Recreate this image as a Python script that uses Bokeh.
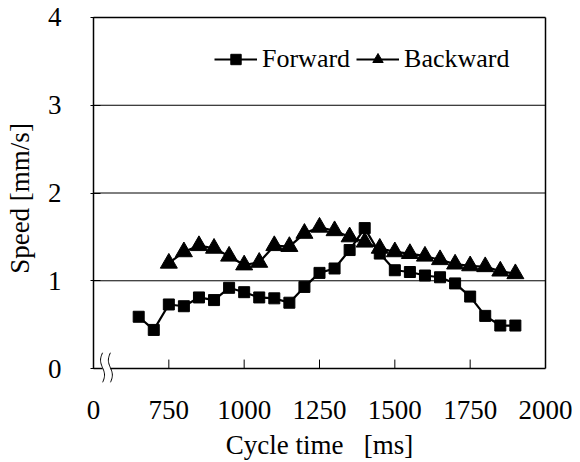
import numpy as np
from bokeh.plotting import figure
from bokeh.models import (FixedTicker, Legend, LegendItem, ColumnDataSource)
from bokeh.embed import file_html
from bokeh.resources import INLINE

# ---- data ----
fwd_x = [650, 700, 750, 800, 850, 900, 950, 1000, 1050, 1100, 1150, 1200, 1250, 1300,
         1350, 1400, 1450, 1500, 1550, 1600, 1650, 1700, 1750, 1800, 1850, 1900]
fwd_y = [0.59, 0.44, 0.73, 0.71, 0.81, 0.78, 0.92, 0.87, 0.81, 0.80, 0.75, 0.93, 1.09, 1.14,
         1.35, 1.60, 1.31, 1.12, 1.10, 1.06, 1.04, 0.97, 0.82, 0.60, 0.49, 0.49]
bwd_x = [750, 800, 850, 900, 950, 1000, 1050, 1100, 1150, 1200, 1250, 1300, 1350, 1400,
         1450, 1500, 1550, 1600, 1650, 1700, 1750, 1800, 1850, 1900]
bwd_y = [1.20, 1.33, 1.40, 1.37, 1.28, 1.18, 1.21, 1.40, 1.39, 1.54, 1.61, 1.57, 1.50, 1.44,
         1.37, 1.33, 1.31, 1.28, 1.24, 1.19, 1.17, 1.16, 1.11, 1.08]
x_ticks = [500, 750, 1000, 1250, 1500, 1750, 2000]
x_tick_labels = {500: "0"}
y_ticks = [0, 1, 2, 3, 4]
grid_y = [1, 2, 3]
series_names = ["Forward", "Backward"]
x_title = "Cycle time\u00a0\u00a0\u00a0[ms]"
y_title = "Speed [mm/s]"
# axis-break decoration (data units)
break_left = 530
break_right = 556
break_top = 0.18
break_bottom = -0.16

FONT = "Liberation Serif"

X0, X1, Y0, Y1 = 500, 2000, 0, 4
PX = (X1 - X0) / 452.0   # data units per pixel (x)
PY = (Y1 - Y0) / 352.0   # data units per pixel (y)

p = figure(width=572, height=462, output_backend="svg", toolbar_location=None,
           x_range=(X0 - 3 * PX, X1 + 3 * PX), y_range=(Y0 - 14 * PY, Y1 + 3 * PY),
           min_border_left=90, min_border_right=24, min_border_top=14, min_border_bottom=79)
p.background_fill_color = "white"
p.border_fill_color = "white"
p.outline_line_color = None
p.xgrid.grid_line_color = None
p.ygrid.grid_line_color = None

# axes (lines/ticks drawn as glyphs below, labels from the axes)
p.xaxis.ticker = FixedTicker(ticks=x_ticks)
p.xaxis.major_label_overrides = x_tick_labels
p.yaxis.ticker = FixedTicker(ticks=y_ticks)
for ax in (p.xaxis[0], p.yaxis[0]):
    ax.axis_line_color = None
    ax.major_tick_out = 0
    ax.minor_tick_line_color = None
    ax.major_label_text_font = FONT
    ax.major_label_text_font_size = "27px"
    ax.major_label_text_color = "black"
    ax.axis_label_text_font = FONT
    ax.axis_label_text_font_size = "27px"
    ax.axis_label_text_font_style = "normal"
    ax.axis_label_text_color = "black"
p.xaxis.major_tick_line_color = None
p.yaxis.major_tick_line_color = "black"
p.yaxis.major_tick_in = 10
p.xaxis.major_label_standoff = 18
p.yaxis.major_label_standoff = 29
p.xaxis.axis_label = x_title
p.yaxis.axis_label = y_title
p.xaxis.axis_label_standoff = 8
p.yaxis.axis_label_standoff = 10

# frame box and horizontal grid lines
p.segment(x0=[X0, X0, X1, X0], y0=[Y0, Y1, Y0, Y0], x1=[X0, X1, X1, X1], y1=[Y1, Y1, Y1, Y0],
          line_color="black", line_width=1.5)
p.segment(x0=[X0] * len(grid_y), y0=grid_y, x1=[X1] * len(grid_y), y1=grid_y,
          line_color="black", line_width=1)
# x ticks pointing inward
inner = [t for t in x_ticks if X0 < t < X1]
p.segment(x0=inner, y0=[Y0] * len(inner), x1=inner, y1=[Y0 + 9 * PY] * len(inner),
          line_color="black", line_width=1)

# axis-break decoration: white gap + two wavy strokes
p.quad(left=[break_left], right=[break_right], bottom=[Y0 - 2 * PY], top=[Y0 + 2 * PY],
       fill_color="white", line_color=None)
t = np.linspace(0, 1, 25)
amp = 2.0 * PX
wy = break_top + (break_bottom - break_top) * t
wxs, wys = [], []
for cx in (break_left, break_right):
    wxs.append(list(cx + amp * np.sin(2 * np.pi * t + np.pi)))
    wys.append(list(wy))
p.multi_line(xs=wxs, ys=wys, line_color="black", line_width=1)

# series
fsrc = ColumnDataSource(dict(x=fwd_x, y=fwd_y))
bsrc = ColumnDataSource(dict(x=bwd_x, y=bwd_y))
fl = p.line("x", "y", source=fsrc, line_color="black", line_width=2.2)
fm = p.scatter("x", "y", source=fsrc, marker="square", size=11, fill_color="black", line_color="black")
bl = p.line("x", "y", source=bsrc, line_color="black", line_width=2.2)
bm = p.scatter("x", "y", source=bsrc, marker="triangle", size=17, fill_color="black", line_color="black")

legend = Legend(items=[LegendItem(label=series_names[0], renderers=[fl, fm]),
                       LegendItem(label=series_names[1], renderers=[bl, bm])],
                orientation="horizontal", location=(124, 308),
                label_text_font=FONT, label_text_font_size="26px", label_text_color="black",
                glyph_width=43, glyph_height=26, label_height=26, label_standoff=5, spacing=6,
                padding=0, margin=0, border_line_color=None, background_fill_alpha=0)
p.add_layout(legend)

open("out.html", "w").write(file_html(p, INLINE))
